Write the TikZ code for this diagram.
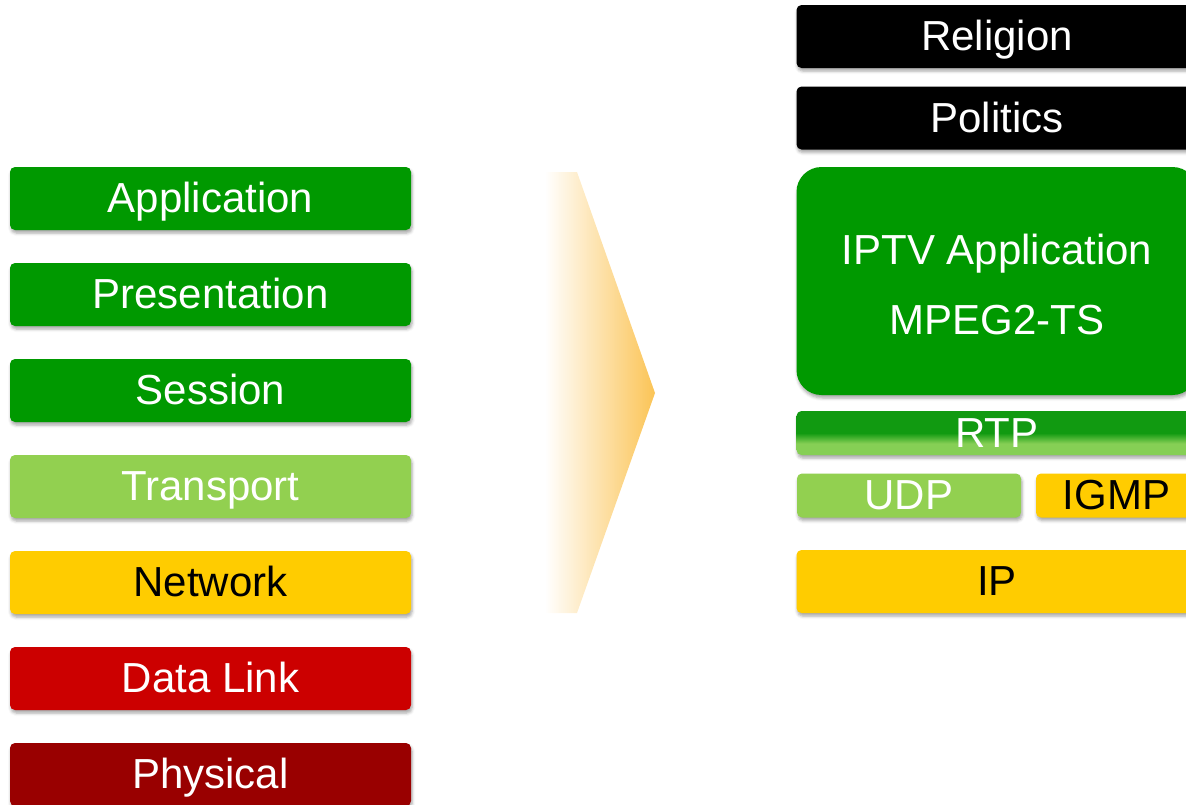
\documentclass[tikz,border=0pt]{standalone}
\usepackage{fontspec}
\setmainfont{Liberation Sans}
\usetikzlibrary{shadows.blur}
\definecolor{dgreen}{HTML}{009900}
\definecolor{lgreen}{HTML}{92D050}
\definecolor{yel}{HTML}{FFCC00}
\definecolor{red1}{HTML}{CC0000}
\definecolor{dred}{HTML}{990000}
\definecolor{rtpdark}{HTML}{119A11}
\definecolor{rtplight}{HTML}{86CF55}
\definecolor{arrowor}{HTML}{FBC456}
\pgfdeclareverticalshading{rtpshade}{100bp}{color(0bp)=(rtplight); color(38bp)=(rtplight); color(50bp)=(rtpdark); color(75bp)=(rtpdark); color(100bp)=(rtpdark)}
\tikzset{
  layer/.style={rounded corners=5pt, inner sep=0pt, minimum width=401pt, minimum height=63pt,
    font=\fontsize{42}{44}\selectfont, text height=36pt, text depth=8pt,
    blur shadow={shadow xshift=1pt, shadow yshift=-3pt, shadow blur radius=3pt, shadow opacity=35}},
  wt/.style={text=white},
  bt/.style={text=black}
}
\begin{document}
\begin{tikzpicture}[x=1pt,y=-1pt]
\useasboundingbox (0,0) rectangle (1186,804);
% left OSI stack
\node[layer, wt, fill=dgreen] (app) at (210.5,198.5) {Application};
\node[layer, wt, fill=dgreen] (pres) at (210.5,294.5) {Presentation};
\node[layer, wt, fill=dgreen] (sess) at (210.5,390.5) {Session};
\node[layer, wt, fill=lgreen] (trans) at (210.5,486.5) {Transport};
\node[layer, bt, fill=yel] (net) at (210.5,582.5) {Network};
\node[layer, wt, fill=red1] (dl) at (210.5,678.5) {Data Link};
\node[layer, wt, fill=dred] (phys) at (210.5,774.5) {Physical};
% arrow
\shade[left color=white, right color=arrowor] (545,172) -- (577,172) -- (655,393) -- (577,613) -- (545,613) -- cycle;
% right stack
\node[layer, wt, fill=black] (rel) at (997,36.5) {Religion};
\node[layer, wt, fill=black] (pol) at (997,118) {Politics};
\node[layer, fill=dgreen, rounded corners=25pt, minimum height=228pt] (iptv) at (997,281) {};
\node[text=white, align=center, inner sep=0pt, font=\fontsize{42}{70}\selectfont] (iptvtext) at (997,284) {IPTV Application\\MPEG2-TS};
\node[layer, wt, shading=rtpshade, minimum height=44pt] (rtp) at (997,433) {RTP};
\node[layer, wt, fill=lgreen, minimum width=224pt, minimum height=44pt] (udp) at (909,495.5) {UDP};
\node[layer, bt, fill=yel, minimum width=161pt, minimum height=44pt] (igmp) at (1116.5,495.5) {IGMP};
\node[layer, bt, fill=yel] (ip) at (997,581.5) {IP};
\end{tikzpicture}
\end{document}
